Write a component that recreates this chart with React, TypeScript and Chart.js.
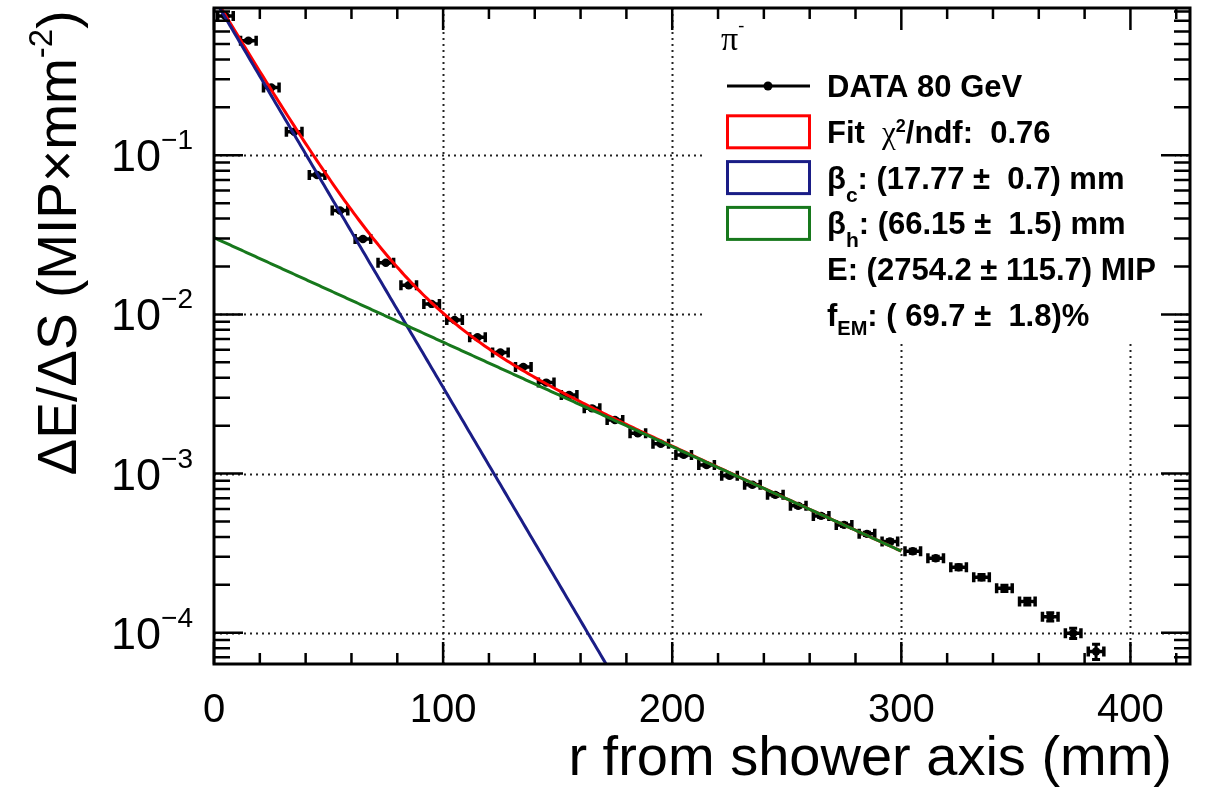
import { useEffect, useRef } from 'react';
import { Chart, registerables } from 'chart.js';

Chart.register(...registerables);

// Radial energy density profile, pi- at 80 GeV (bin centres in mm)
const radius = [
  5, 15, 25, 35, 45, 55, 65, 75, 85, 95,
  105, 115, 125, 135, 145, 155, 165, 175, 185, 195,
  205, 215, 225, 235, 245, 255, 265, 275, 285, 295,
  305, 315, 325, 335, 345, 355, 365, 375, 385,
];
// dE/dS in MIP/mm^2
const density = [
  0.75, 0.525, 0.267, 0.1405, 0.0752, 0.045, 0.0298, 0.0211, 0.01524, 0.01164,
  0.00923, 0.00719, 0.00576, 0.00468, 0.00373, 0.00312, 0.00257, 0.00217, 0.00179, 0.00154,
  0.00131, 0.00113, 0.000968, 0.00085, 0.000735, 0.000627, 0.000542, 0.000476, 0.000418, 0.000374,
  0.000325, 0.000294, 0.000258, 0.000223, 0.00019, 0.000157, 0.000126, 0.0000993, 0.0000762,
];
// relative statistical error per bin
const densityRelErr = [
  0.01, 0.01, 0.01, 0.01, 0.01, 0.01, 0.01, 0.01, 0.01, 0.01,
  0.012, 0.012, 0.012, 0.012, 0.012, 0.014, 0.014, 0.014, 0.015, 0.015,
  0.016, 0.016, 0.018, 0.018, 0.02, 0.02, 0.022, 0.022, 0.024, 0.025,
  0.03, 0.03, 0.035, 0.04, 0.045, 0.05, 0.06, 0.075, 0.11,
];
const radiusErr = 3.4;

// Two-component exponential fit results
const fitChi2Ndf = 0.76;
const betaCore = 17.77;
const betaCoreErr = 0.7;
const betaHalo = 66.15;
const betaHaloErr = 1.5;
const fitEnergy = 2754.2;
const fitEnergyErr = 115.7;
const fracEM = 69.7;
const fracEMErr = 1.8;
const fitRangeMax = 300;

// Axis ranges and tick labels
const xMin = 0;
const xMax = 426;
const yMin = 6.36e-5;
const yMax = 0.842;
const xTickValues = [0, 100, 200, 300, 400];
const xTickLabels = ['0', '100', '200', '300', '400'];
const yTickExponents = [-1, -2, -3, -4];

const coreTerm = (r: number) =>
  (fitEnergy * (fracEM / 100)) / (2 * Math.PI * betaCore * betaCore) * Math.exp(-r / betaCore);
const haloTerm = (r: number) =>
  (fitEnergy * (1 - fracEM / 100)) / (2 * Math.PI * betaHalo * betaHalo) * Math.exp(-r / betaHalo);

const fitR: number[] = [];
for (let r = 0; r <= fitRangeMax; r += 1) fitR.push(r);

const SANS = '"Liberation Sans", Arial, Helvetica, sans-serif';
const SERIF = '"Liberation Serif", "Times New Roman", serif';
const RED = '#ff0000';
const BLUE = '#1a1d86';
const GREEN = '#17781c';

type Seg = { text: string; font: string; dy?: number };

function drawSegs(ctx: CanvasRenderingContext2D, segs: Seg[], x: number, y: number, align: 'left' | 'right' | 'center') {
  let total = 0;
  for (const s of segs) {
    ctx.font = s.font;
    total += ctx.measureText(s.text).width;
  }
  let cx = align === 'left' ? x : align === 'right' ? x - total : x - total / 2;
  ctx.textAlign = 'left';
  ctx.textBaseline = 'alphabetic';
  for (const s of segs) {
    ctx.font = s.font;
    ctx.fillText(s.text, cx, y + (s.dy || 0));
    cx += ctx.measureText(s.text).width;
  }
}

const pad = (v: string, n: number) => v.padStart(n, ' ');

const rootStyle = {
  id: 'rootStyle',
  beforeDraw(chart: any) {
    const ctx: CanvasRenderingContext2D = chart.ctx;
    ctx.save();
    ctx.fillStyle = '#ffffff';
    ctx.fillRect(0, 0, chart.width, chart.height);
    ctx.restore();
  },
  beforeDatasetsDraw(chart: any) {
    const ctx: CanvasRenderingContext2D = chart.ctx;
    const { left, right, top, bottom } = chart.chartArea;
    const xs = chart.scales.x;
    const ys = chart.scales.y;
    ctx.save();
    // dotted grid
    ctx.strokeStyle = '#222';
    ctx.lineWidth = 2;
    ctx.setLineDash([2, 4]);
    for (const v of xTickValues) {
      if (v <= xMin) continue;
      const px = Math.round(xs.getPixelForValue(v)) + 0.5;
      ctx.beginPath();
      ctx.moveTo(px, top);
      ctx.lineTo(px, bottom);
      ctx.stroke();
    }
    for (const e of yTickExponents) {
      const py = Math.round(ys.getPixelForValue(Math.pow(10, e))) + 0.5;
      ctx.beginPath();
      ctx.moveTo(left, py);
      ctx.lineTo(right, py);
      ctx.stroke();
    }
    ctx.setLineDash([]);
    // legend pad background
    ctx.fillStyle = '#ffffff';
    ctx.fillRect(705, top, 470, 340 - top);

    // error bars
    ctx.beginPath();
    ctx.rect(left, top, right - left, bottom - top);
    ctx.clip();
    ctx.strokeStyle = '#000';
    for (let i = 0; i < radius.length; i++) {
      const r = radius[i];
      const v = density[i];
      const px = xs.getPixelForValue(r);
      const py = ys.getPixelForValue(v);
      const x1 = xs.getPixelForValue(r - radiusErr);
      const x2 = xs.getPixelForValue(r + radiusErr);
      const y1 = ys.getPixelForValue(v * (1 + densityRelErr[i]));
      const y2 = ys.getPixelForValue(v * (1 - densityRelErr[i]));
      ctx.lineWidth = 3.5;
      ctx.beginPath();
      ctx.moveTo(x1, py);
      ctx.lineTo(x2, py);
      ctx.moveTo(x1, py - 5);
      ctx.lineTo(x1, py + 5);
      ctx.moveTo(x2, py - 5);
      ctx.lineTo(x2, py + 5);
      ctx.stroke();
      ctx.lineWidth = 3;
      ctx.beginPath();
      ctx.moveTo(px, y1);
      ctx.lineTo(px, y2);
      ctx.moveTo(px - 4, y1);
      ctx.lineTo(px + 4, y1);
      ctx.moveTo(px - 4, y2);
      ctx.lineTo(px + 4, y2);
      ctx.stroke();
    }
    ctx.restore();
  },
  afterDatasetsDraw(chart: any) {
    const ctx: CanvasRenderingContext2D = chart.ctx;
    const { left, right, top, bottom } = chart.chartArea;
    const xs = chart.scales.x;
    const ys = chart.scales.y;
    ctx.save();
    ctx.strokeStyle = '#000';
    ctx.fillStyle = '#000';
    ctx.lineWidth = 2.5;

    // x ticks (inside, bottom and top)
    ctx.beginPath();
    for (let v = xMin; v <= xMax; v += 20) {
      const px = xs.getPixelForValue(v);
      const len = v % 100 === 0 ? 22 : 11;
      ctx.moveTo(px, bottom);
      ctx.lineTo(px, bottom - len);
      ctx.moveTo(px, top);
      ctx.lineTo(px, top + len);
    }
    // y ticks (log, inside, left and right)
    for (let d = -5; d <= 0; d++) {
      for (let m = 1; m <= 9; m++) {
        const v = m * Math.pow(10, d);
        if (v < yMin || v > yMax) continue;
        const py = ys.getPixelForValue(v);
        const len = m === 1 ? 29 : 16;
        ctx.moveTo(left, py);
        ctx.lineTo(left + len, py);
        ctx.moveTo(right, py);
        ctx.lineTo(right - len, py);
      }
    }
    ctx.stroke();

    // frame
    ctx.lineWidth = 3;
    ctx.strokeRect(left, top, right - left, bottom - top);

    // x tick labels
    ctx.font = `40px ${SANS}`;
    ctx.textAlign = 'center';
    ctx.textBaseline = 'alphabetic';
    xTickValues.forEach((v, i) => {
      ctx.fillText(xTickLabels[i], xs.getPixelForValue(v), 722);
    });

    // y tick labels 10^n
    for (const e of yTickExponents) {
      const py = ys.getPixelForValue(Math.pow(10, e));
      drawSegs(ctx, [
        { text: '10', font: `45px ${SANS}` },
        { text: `\u2212${-e}`, font: `28px ${SANS}`, dy: -22 },
      ], 193, py + 16, 'right');
    }

    // axis titles
    drawSegs(ctx, [{ text: 'r from shower axis (mm)', font: `56px ${SANS}` }], 1172, 775, 'right');
    ctx.save();
    ctx.translate(76, 243);
    ctx.rotate(-Math.PI / 2);
    drawSegs(ctx, [
      { text: '\u0394E/\u0394S (MIP\u00D7mm', font: `55px ${SANS}` },
      { text: '-2', font: `33px ${SANS}`, dy: -24 },
      { text: ')', font: `55px ${SANS}` },
    ], 0, 0, 'center');
    ctx.restore();

    // legend
    drawSegs(ctx, [
      { text: '\u03C0', font: `34px ${SERIF}` },
      { text: '-', font: `18px ${SERIF}`, dy: -19 },
    ], 721, 50, 'left');

    const bold = `bold 31px ${SANS}`;
    const rowY = (i: number) => 86 + i * 45.8;
    const tx = 827;
    // data entry
    ctx.lineWidth = 3;
    ctx.beginPath();
    ctx.moveTo(727, rowY(0));
    ctx.lineTo(810, rowY(0));
    ctx.stroke();
    ctx.beginPath();
    ctx.arc(768, rowY(0), 4.5, 0, Math.PI * 2);
    ctx.fill();
    // fit entries
    const boxes = [RED, BLUE, GREEN];
    boxes.forEach((c, k) => {
      ctx.strokeStyle = c;
      ctx.lineWidth = 3;
      ctx.strokeRect(727.5, rowY(k + 1) - 16, 82, 32);
    });
    ctx.fillStyle = '#000';
    const base = (i: number) => rowY(i) + 11;
    drawSegs(ctx, [{ text: 'DATA 80 GeV', font: bold }], tx, base(0), 'left');
    drawSegs(ctx, [
      { text: 'Fit  ', font: bold },
      { text: '\u03C7', font: `31px ${SERIF}` },
      { text: '2', font: `bold 18px ${SANS}`, dy: -11 },
      { text: `/ndf:  ${fitChi2Ndf.toFixed(2)}`, font: bold },
    ], tx, base(1), 'left');
    drawSegs(ctx, [
      { text: '\u03B2', font: bold },
      { text: 'c', font: `bold 21px ${SANS}`, dy: 13 },
      { text: `: (${betaCore.toFixed(2)} \u00B1 ${pad(betaCoreErr.toFixed(1), 4)}) mm`, font: bold },
    ], tx, base(2), 'left');
    drawSegs(ctx, [
      { text: '\u03B2', font: bold },
      { text: 'h', font: `bold 21px ${SANS}`, dy: 13 },
      { text: `: (${betaHalo.toFixed(2)} \u00B1 ${pad(betaHaloErr.toFixed(1), 4)}) mm`, font: bold },
    ], tx, base(3), 'left');
    drawSegs(ctx, [
      { text: `E: (${fitEnergy.toFixed(1)} \u00B1 ${fitEnergyErr.toFixed(1)}) MIP`, font: bold },
    ], tx, base(4), 'left');
    drawSegs(ctx, [
      { text: 'f', font: bold },
      { text: 'EM', font: `bold 20px ${SANS}`, dy: 9 },
      { text: `: (${pad(fracEM.toFixed(1), 5)} \u00B1 ${pad(fracEMErr.toFixed(1), 4)})%`, font: bold },
    ], tx, base(5), 'left');
    ctx.restore();
  },
};

export default function App() {
  const canvasRef = useRef<HTMLCanvasElement | null>(null);

  useEffect(() => {
    const canvas = canvasRef.current;
    if (!canvas) return;
    const dataPts = radius.map((r, i) => ({ x: r, y: density[i] }));
    const totalPts = fitR.map((r) => ({ x: r, y: coreTerm(r) + haloTerm(r) }));
    const corePts = fitR.map((r) => ({ x: r, y: coreTerm(r) }));
    const haloPts = fitR.map((r) => ({ x: r, y: haloTerm(r) }));

    const chart = new Chart(canvas, {
      type: 'scatter',
      data: {
        datasets: [
          {
            label: 'halo',
            data: haloPts,
            showLine: true,
            borderColor: GREEN,
            borderWidth: 3,
            pointRadius: 0,
            fill: false,
            order: 0,
          },
          {
            label: 'core',
            data: corePts,
            showLine: true,
            borderColor: BLUE,
            borderWidth: 3,
            pointRadius: 0,
            fill: false,
            order: 1,
          },
          {
            label: 'fit',
            data: totalPts,
            showLine: true,
            borderColor: RED,
            borderWidth: 3,
            pointRadius: 0,
            fill: false,
            order: 2,
          },
          {
            label: 'DATA 80 GeV',
            data: dataPts,
            showLine: false,
            pointRadius: 4.2,
            pointBackgroundColor: '#000',
            pointBorderWidth: 0,
            order: 3,
          },
        ],
      } as any,
      options: {
        responsive: false,
        animation: false,
        devicePixelRatio: 1,
        events: [],
        layout: { padding: { left: 214, top: 8, right: 20, bottom: 125 } },
        plugins: {
          legend: { display: false },
          tooltip: { enabled: false },
        },
        scales: {
          x: { type: 'linear', min: xMin, max: xMax, display: false },
          y: { type: 'logarithmic', min: yMin, max: yMax, display: false },
        },
      } as any,
      plugins: [rootStyle as any],
    });
    return () => chart.destroy();
  }, []);

  return (
    <div style={{ position: 'fixed', left: 0, top: 0, width: 1210, height: 789, background: '#fff' }}>
      <canvas ref={canvasRef} width={1210} height={789} style={{ display: 'block' }} />
    </div>
  );
}
